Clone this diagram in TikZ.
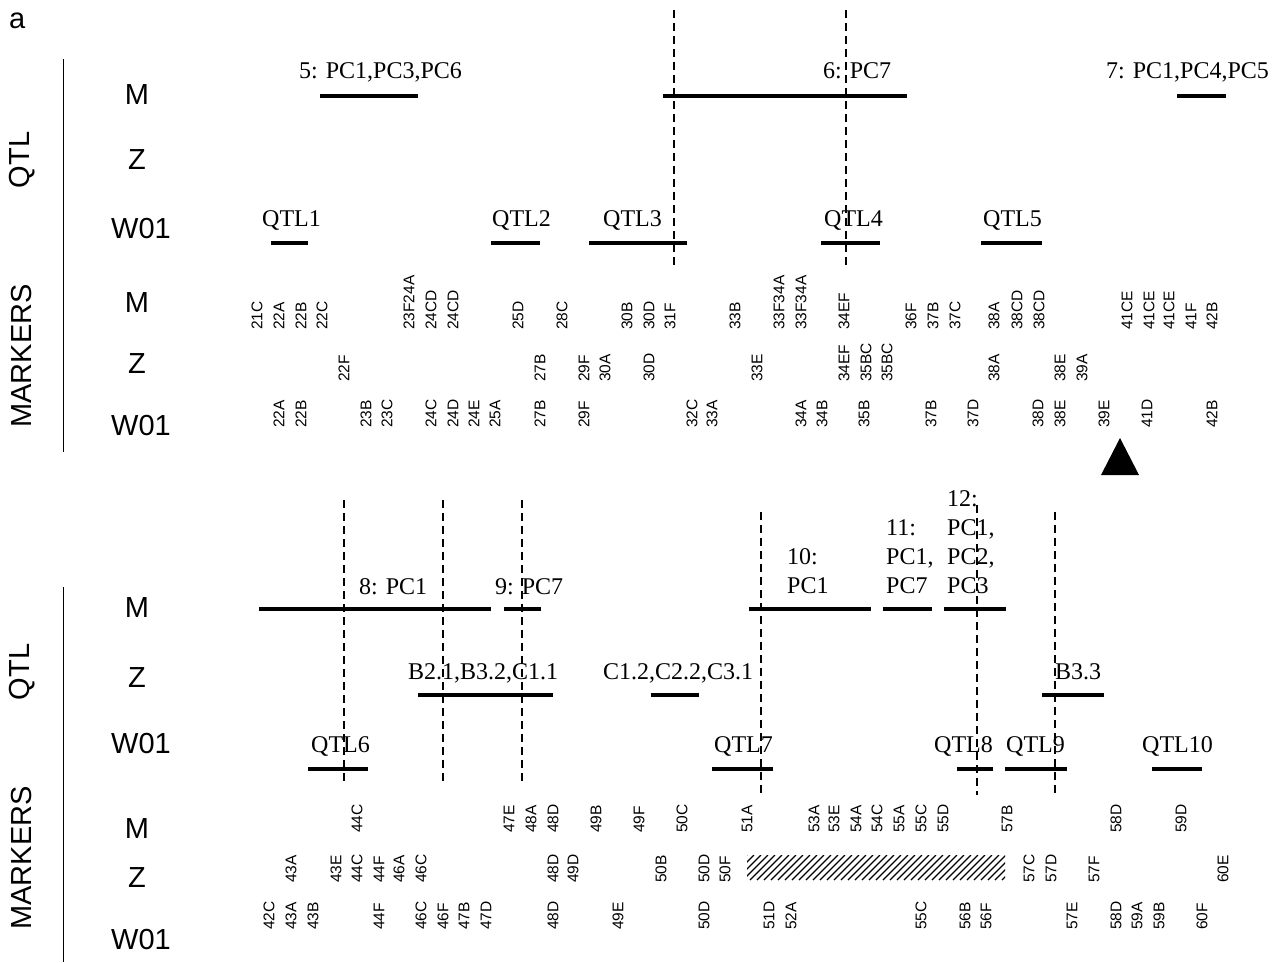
\documentclass[tikz,border=0pt]{standalone}
\usepackage{fontspec}
\setmainfont{Liberation Serif}
\setsansfont{Liberation Sans}
\tikzset{
  bar/.style={line width=4pt},
  vdash/.style={line width=1.4pt, dash pattern=on 8pt off 5pt},
  axisline/.style={line width=1.5pt},
  rowlab/.style={font=\sffamily\fontsize{29}{29}\selectfont, inner sep=0pt},
  mk/.style={font=\sffamily\fontsize{15.5}{15.5}\selectfont, rotate=90, anchor=west, inner sep=0pt},
  qt/.style={font=\rmfamily\fontsize{24}{29}\selectfont, inner sep=0pt, anchor=base west},
  qtm/.style={font=\rmfamily\fontsize{24}{29}\selectfont, inner sep=0pt, anchor=south west, align=left},
}
\begin{document}
\begin{tikzpicture}[x=1pt,y=-1pt]
\useasboundingbox (0,0) rectangle (1275,962);
% panel letter
\node[rowlab, anchor=base west] (lbla) at (9,28) {a};
% ---------- top panel ----------
\draw[axisline] (63.5,59) -- (63.5,452);
\node[rowlab, rotate=90] (tqtl) at (22,160) {QTL};
\node[rowlab, rotate=90] (tmark) at (22,356) {MARKERS};
\node[rowlab] (tr1) at (137,95) {M};
\node[rowlab] (tr2) at (137,160) {Z};
\node[rowlab] (tr3) at (141,229) {W01};
\node[rowlab] (tr4) at (137,303) {M};
\node[rowlab] (tr5) at (137,364) {Z};
\node[rowlab] (tr6) at (141,426) {W01};
% dashed lines
\draw[vdash] (674,10) -- (674,267);
\draw[vdash] (846,10) -- (846,267);
% QTL bars M
\draw[bar] (320,96) -- (418,96);
\draw[bar] (663,96) -- (907,96);
\draw[bar] (1177,96) -- (1226,96);
\node[qt] (q5) at (299,78) {5: PC1,PC3,PC6};
\node[qt] (q6) at (823,78) {6: PC7};
\node[qt] (q7) at (1106,78) {7: PC1,PC4,PC5};
% QTL bars W01
\draw[bar] (271,243) -- (308,243);
\draw[bar] (491,243) -- (540,243);
\draw[bar] (589,243) -- (687,243);
\draw[bar] (821,243) -- (880,243);
\draw[bar] (981,243) -- (1042,243);
\node[qt] (qtl1) at (262,226) {QTL1};
\node[qt] (qtl2) at (492,226) {QTL2};
\node[qt] (qtl3) at (603,226) {QTL3};
\node[qt] (qtl4) at (824,226) {QTL4};
\node[qt] (qtl5) at (983,226) {QTL5};
% markers
\foreach \x/\t in {257/21C,279/22A,301/22B,322/22C,409/23F24A,431/24CD,453/24CD,518/25D,562/28C,627/30B,649/30D,670/31F,735/33B,779/33F34A,801/33F34A,844/34EF,911/36F,933/37B,955/37C,994/38A,1017/38CD,1039/38CD,1127/41CE,1149/41CE,1169/41CE,1191/41F,1212/42B}
  \node[mk] (tm\x) at (\x,330) {\t};
\foreach \x/\t in {344/22F,540/27B,584/29F,605/30A,649/30D,757/33E,844/34EF,866/35BC,887/35BC,994/38A,1060/38E,1082/39A}
  \node[mk] (tz\x) at (\x,382) {\t};
\foreach \x/\t in {279/22A,301/22B,366/23B,387/23C,431/24C,453/24D,474/24E,495/25A,540/27B,584/29F,692/32C,712/33A,801/34A,822/34B,864/35B,931/37B,973/37D,1038/38D,1060/38E,1104/39E,1147/41D,1212/42B}
  \node[mk] (tw\x) at (\x,428) {\t};
\fill (1101,475) -- (1139,475) -- (1120,438) -- cycle;
% ---------- bottom panel ----------
\draw[axisline] (63.5,587) -- (63.5,962);
\node[rowlab, rotate=90] (bqtl) at (22,672) {QTL};
\node[rowlab, rotate=90] (bmark) at (22,858) {MARKERS};
\node[rowlab] (br1) at (137,608) {M};
\node[rowlab] (br2) at (137,678) {Z};
\node[rowlab] (br3) at (141,744) {W01};
\node[rowlab] (br4) at (137,829) {M};
\node[rowlab] (br5) at (137,878) {Z};
\node[rowlab] (br6) at (141,940) {W01};
% dashed lines
\draw[vdash] (344,500) -- (344,782);
\draw[vdash] (443,500) -- (443,782);
\draw[vdash] (522,500) -- (522,782);
\draw[vdash] (761,512) -- (761,795);
\draw[vdash] (977,505) -- (977,795);
\draw[vdash] (1055,512) -- (1055,795);
% M bars
\draw[bar] (259,609) -- (491,609);
\draw[bar] (504,609) -- (541,609);
\draw[bar] (749,609) -- (871,609);
\draw[bar] (883,609) -- (932,609);
\draw[bar] (944,609) -- (1006,609);
\node[qt] (q8) at (359,594) {8: PC1};
\node[qt] (q9) at (495,594) {9: PC7};
\node[qtm] (q10) at (787,594) {10:\\PC1};
\node[qtm] (q11) at (886,594) {11:\\PC1,\\PC7};
\node[qtm] (q12) at (947,594) {12:\\PC1,\\PC2,\\PC3};
% Z bars
\draw[bar] (418,695) -- (553,695);
\draw[bar] (651,695) -- (699,695);
\draw[bar] (1042,695) -- (1104,695);
\node[qt] (zb1) at (408,679) {B2.1,B3.2,C1.1};
\node[qt] (zb2) at (603,679) {C1.2,C2.2,C3.1};
\node[qt] (zb3) at (1055,679) {B3.3};
% W01 bars
\draw[bar] (308,769) -- (368,769);
\draw[bar] (712,769) -- (773,769);
\draw[bar] (957,769) -- (993,769);
\draw[bar] (1005,769) -- (1067,769);
\draw[bar] (1152,769) -- (1202,769);
\node[qt] (qtl6) at (311,752) {QTL6};
\node[qt] (qtl7) at (714,752) {QTL7};
\node[qt] (qtl8) at (934,752) {QTL8};
\node[qt] (qtl9) at (1006,752) {QTL9};
\node[qt] (qtl10) at (1142,752) {QTL10};
% markers
\foreach \x/\t in {357/44C,509/47E,531/48A,553/48D,596/49B,639/49F,682/50C,747/51A,814/53A,834/53E,856/54A,877/54C,899/55A,921/55C,943/55D,1007/57B,1116/58D,1181/59D}
  \node[mk] (bm\x) at (\x,833) {\t};
\foreach \x/\t in {291/43A,336/43E,357/44C,379/44F,399/46A,421/46C,553/48D,573/49D,661/50B,704/50D,725/50F,1029/57C,1051/57D,1094/57F,1223/60E}
  \node[mk] (bz\x) at (\x,883) {\t};
\foreach \x/\t in {269/42C,291/43A,313/43B,379/44F,421/46C,443/46F,464/47B,486/47D,553/48D,618/49E,704/50D,769/51D,791/52A,921/55C,965/56B,986/56F,1072/57E,1116/58D,1137/59A,1159/59B,1202/60F}
  \node[mk] (bw\x) at (\x,930) {\t};
% hatched region
\begin{scope}
  \clip (747,855) rectangle (1005,880);
  \foreach \i in {0,...,41} \draw[line width=1.1pt] (722+\i*7,880) -- ++(25,-25);
\end{scope}
\end{tikzpicture}
\end{document}
